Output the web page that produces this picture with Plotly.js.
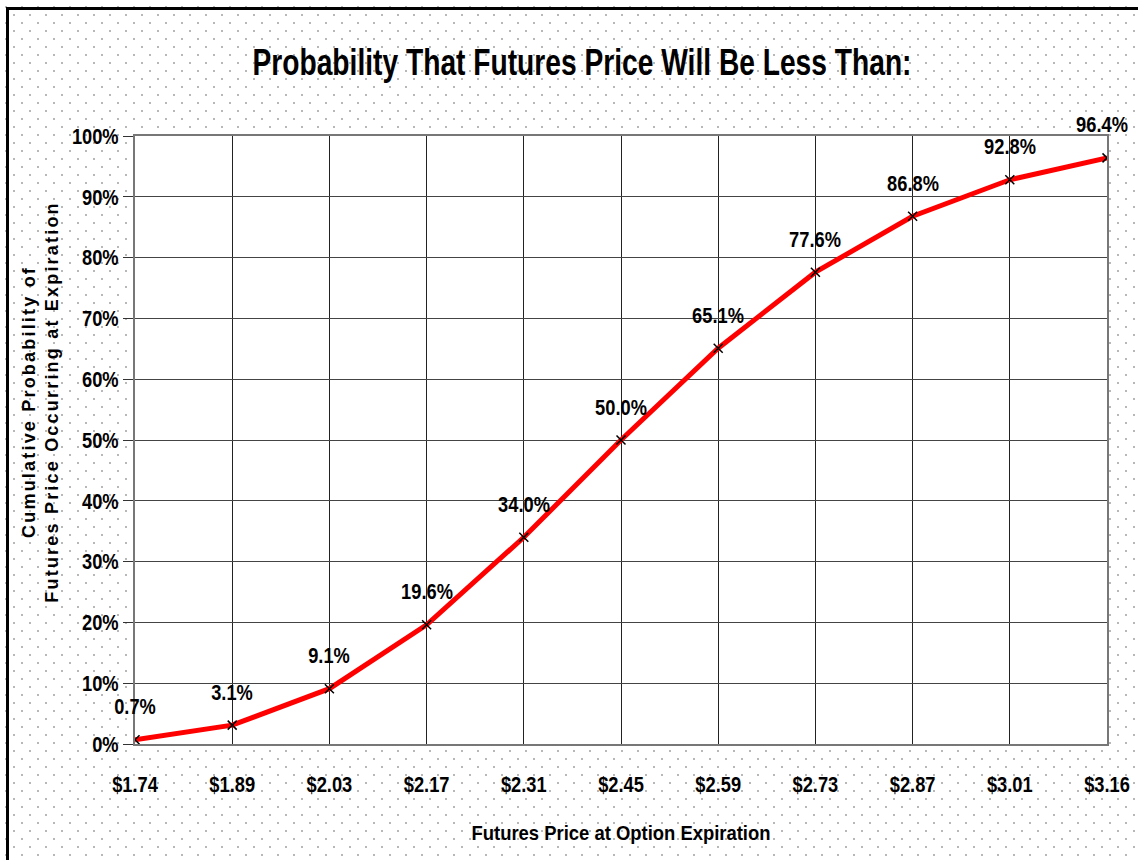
<!DOCTYPE html>
<html>
<head>
<meta charset="utf-8">
<script src="https://cdn.plot.ly/plotly-3.0.1.min.js"></script>
<style>
  html, body { margin: 0; padding: 0; background: #fff; }
  #wrap {
    position: absolute; left: 0; top: 0; width: 1138px; height: 860px; overflow: hidden;
    background-color: #fff;
    background-image: radial-gradient(circle, #b8b8b8 0.9px, rgba(255,255,255,0) 1.3px),
                      radial-gradient(circle, #b8b8b8 0.9px, rgba(255,255,255,0) 1.3px);
    background-size: 16px 16px, 16px 16px;
    background-position: 6px 7px, 14px 15px;
  }
  #frame {
    position: absolute; left: 6px; top: 7px; width: 1200px; height: 900px;
    border-left: 3px solid #000; border-top: 3px solid #000; pointer-events: none;
  }
  #chart { position: absolute; left: 0; top: 0; width: 1138px; height: 860px; }
  .annotation[data-index="0"] text { letter-spacing: 2.2px; }
</style>
</head>
<body>
<div id="wrap">
  <div id="chart"></div>
  <div id="frame"></div>
</div>
<script>
const prices = ["$1.74", "$1.89", "$2.03", "$2.17", "$2.31", "$2.45", "$2.59", "$2.73", "$2.87", "$3.01", "$3.16"];
const probability = [0.7, 3.1, 9.1, 19.6, 34.0, 50.0, 65.1, 77.6, 86.8, 92.8, 96.4];
const yTickVals = [0, 10, 20, 30, 40, 50, 60, 70, 80, 90, 100];
const yTickText = ["0%", "10%", "20%", "30%", "40%", "50%", "60%", "70%", "80%", "90%", "100%"];

const FONT = '"Liberation Sans", Arial, sans-serif';

const trace = {
  type: 'scatter',
  mode: 'lines+markers',
  x: prices,
  y: probability,
  line: { color: '#ff0000', width: 5 },
  marker: { symbol: 'x-thin-open', size: 9, color: '#000', line: { color: '#000', width: 1.5 } },
  hoverinfo: 'skip'
};

const annotations = [{
  xref: 'paper', yref: 'paper',
  x: (40 - 135) / 972, y: (744 - 402) / 608,
  xanchor: 'center', yanchor: 'middle',
  text: 'Cumulative Probability of<br>Futures Price Occurring at Expiration',
  textangle: -90, showarrow: false,
  font: { family: FONT, size: 18, color: '#000', weight: 'bold' }
}];
probability.forEach((v, i) => {
  annotations.push({
    x: prices[i], y: v, xref: 'x', yref: 'y',
    text: v.toFixed(1) + '%', showarrow: false,
    width: 52, align: 'center',
    yshift: 33, xshift: (i === probability.length - 1) ? -5 : 0,
    xanchor: 'center', yanchor: 'middle',
    font: { family: FONT, size: 22, color: '#000', weight: 'bold' }
  });
});

const layout = {
  width: 1138, height: 860,
  paper_bgcolor: 'rgba(0,0,0,0)',
  plot_bgcolor: '#ffffff',
  margin: { l: 135, r: 31, t: 136, b: 116, pad: 0 },
  showlegend: false,
  title: {
    text: 'Probability That Futures Price Will Be Less Than:',
    xref: 'container', yref: 'container',
    x: 582 / 1138, y: 1 - 62 / 860, xanchor: 'center', yanchor: 'middle',
    font: { family: FONT, size: 37, color: '#000', weight: 'bold' }
  },
  xaxis: {
    type: 'category',
    range: [0, 10],
    showgrid: true, gridcolor: '#222', gridwidth: 1,
    showline: true, linecolor: '#777', linewidth: 2, mirror: true,
    ticks: '', ticklabelstandoff: 20,
    tickfont: { family: FONT, size: 22, color: '#000', weight: 'bold' },
    title: {
      text: 'Futures Price at Option Expiration', standoff: 29,
      font: { family: FONT, size: 21, color: '#000', weight: 'bold' }
    },
    zeroline: false, fixedrange: true
  },
  yaxis: {
    range: [0, 100],
    tickvals: yTickVals, ticktext: yTickText,
    showgrid: true, gridcolor: '#444', gridwidth: 1,
    showline: true, linecolor: '#777', linewidth: 2, mirror: true,
    ticks: 'outside', ticklen: 10, tickcolor: '#333', tickwidth: 1,
    tickfont: { family: FONT, size: 22, color: '#000', weight: 'bold' },
    zeroline: false, fixedrange: true
  },
  annotations: annotations
};

// Narrow the bold glyphs (no "Arial Narrow" face is installed)
function condense(selector, factor, target) {
  document.querySelectorAll(selector).forEach(t => {
    const w = t.getComputedTextLength();
    if (!w) return;
    const nw = target ? target : w * factor;
    t.setAttribute('textLength', nw.toFixed(1));
    t.setAttribute('lengthAdjust', 'spacingAndGlyphs');
  });
}

Plotly.newPlot('chart', [trace], layout, { displayModeBar: false, staticPlot: true }).then(() => {
  condense('.gtitle', 1, 659);
  condense('.xtick text', 0.83);
  condense('.ytick text', 0.83);
  condense('.annotation:not([data-index="0"]) text', 0.83);
  condense('.xtitle', 1, 299);
});
</script>
</body>
</html>
